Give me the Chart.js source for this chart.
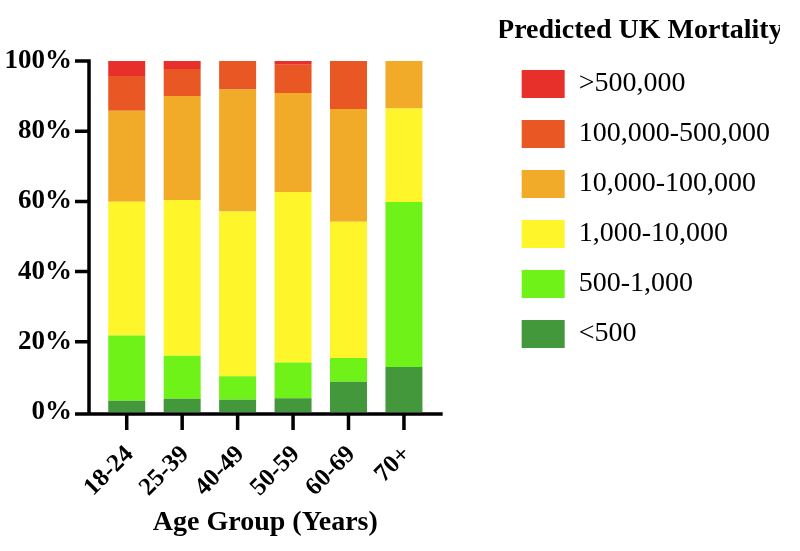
<!DOCTYPE html>
<html>
<head>
<meta charset="utf-8">
<script src="https://cdn.jsdelivr.net/npm/chart.js@4/dist/chart.umd.min.js"></script>
<style>
  body { margin: 0; background: #fff; }
  #wrap { width: 800px; height: 551px; }
</style>
</head>
<body>
<div id="wrap"><canvas id="mortalityChart"></canvas></div>
<script>
// data (percent of each age group)
const ageGroups = ['18-24', '25-39', '40-49', '50-59', '60-69', '70+'];
const bandLabels = ['<500', '500-1,000', '1,000-10,000', '10,000-100,000', '100,000-500,000', '>500,000'];
const under500 = [3.2, 3.8, 3.5, 3.9, 8.6, 12.8];
const from500to1k = [18.6, 12.2, 6.7, 10.2, 6.8, 47.0];
const from1kto10k = [38.1, 44.4, 46.9, 48.6, 38.8, 26.7];
const from10kto100k = [25.9, 29.6, 34.8, 28.2, 32.1, 13.5];
const from100kto500k = [9.9, 7.7, 8.1, 8.0, 13.7, 0];
const over500k = [4.3, 2.3, 0, 1.1, 0, 0];
const yTicks = [0, 20, 40, 60, 80, 100];

const bandColors = ['#42983A', '#6EF217', '#FEF62A', '#F2AA29', '#E85724', '#E8302A'];
const bandValues = [under500, from500to1k, from1kto10k, from10kto100k, from100kto500k, over500k];

Chart.defaults.font.family = '"Liberation Serif", "Times New Roman", serif';
Chart.defaults.color = '#000';

// axis lines and tick marks sit a little away from the bars, so draw them here
const axisLines = {
  id: 'axisLines',
  afterDatasetsDraw(chart) {
    const { ctx, chartArea, scales: { x, y } } = chart;
    const ax = chartArea.left - 10;
    const ay = chartArea.bottom + 2;
    ctx.save();
    ctx.strokeStyle = '#000';
    ctx.lineWidth = 3.5;
    ctx.beginPath();
    ctx.moveTo(ax, y.getPixelForValue(100) - 1.75);
    ctx.lineTo(ax, ay + 1.75);
    ctx.moveTo(ax - 1.75, ay);
    ctx.lineTo(chartArea.right + 11, ay);
    y.ticks.forEach(t => {
      const py = t.value === 0 ? ay : y.getPixelForValue(t.value);
      ctx.moveTo(ax - 14, py);
      ctx.lineTo(ax, py);
    });
    x.ticks.forEach((t, i) => {
      const px = x.getPixelForTick(i);
      ctx.moveTo(px, ay);
      ctx.lineTo(px, ay + 16);
    });
    ctx.stroke();
    ctx.restore();
  }
};

const ctx = document.getElementById('mortalityChart');

new Chart(ctx, {
  type: 'bar',
  data: {
    labels: ageGroups,
    datasets: bandLabels.map((label, i) => ({
      label: label,
      data: bandValues[i],
      backgroundColor: bandColors[i],
      borderWidth: 0,
      categoryPercentage: 1,
      barPercentage: 0.667
    }))
  },
  options: {
    responsive: true,
    maintainAspectRatio: false,
    animation: false,
    layout: { padding: { top: 4, right: 20, bottom: 0, left: 0 } },
    plugins: {
      title: {
        display: true,
        text: '',
        padding: { top: 47, bottom: 0 },
        font: { size: 10, lineHeight: 1 }
      },
      tooltip: { enabled: false },
      legend: {
        position: 'right',
        align: 'start',
        reverse: true,
        maxWidth: 320,
        title: {
          display: true,
          text: 'Predicted UK Mortality',
          padding: { top: 12.5, bottom: 3.5 },
          font: { size: 28, weight: 'bold', lineHeight: 1 }
        },
        labels: {
          boxWidth: 43,
          boxHeight: 28,
          padding: 22,
          font: { size: 28 }
        }
      }
    },
    scales: {
      x: {
        stacked: true,
        grid: { display: false, drawTicks: false },
        border: { display: false },
        ticks: {
          minRotation: 45,
          maxRotation: 45,
          padding: 28,
          labelOffset: 3,
          font: { size: 25, weight: 'bold' }
        },
        title: {
          display: true,
          text: 'Age Group (Years)',
          padding: { top: 0, bottom: 11 },
          font: { size: 28, weight: 'bold' }
        },
        afterFit: s => { s.height = 139; }
      },
      y: {
        stacked: true,
        min: 0,
        max: 100,
        afterBuildTicks: s => { s.ticks = yTicks.map(v => ({ value: v })); },
        grid: { display: false, drawTicks: false },
        border: { display: false },
        ticks: {
          padding: 27,
          font: { size: 27, weight: 'bold' },
          callback: v => v + '%'
        },
        afterFit: s => { s.width = 99; }
      },
      gap: {
        position: 'right',
        display: true,
        grid: { display: false, drawTicks: false },
        border: { display: false },
        ticks: { display: false },
        afterFit: s => { s.width = 68; }
      }
    }
  },
  plugins: [axisLines]
});
</script>
</body>
</html>
